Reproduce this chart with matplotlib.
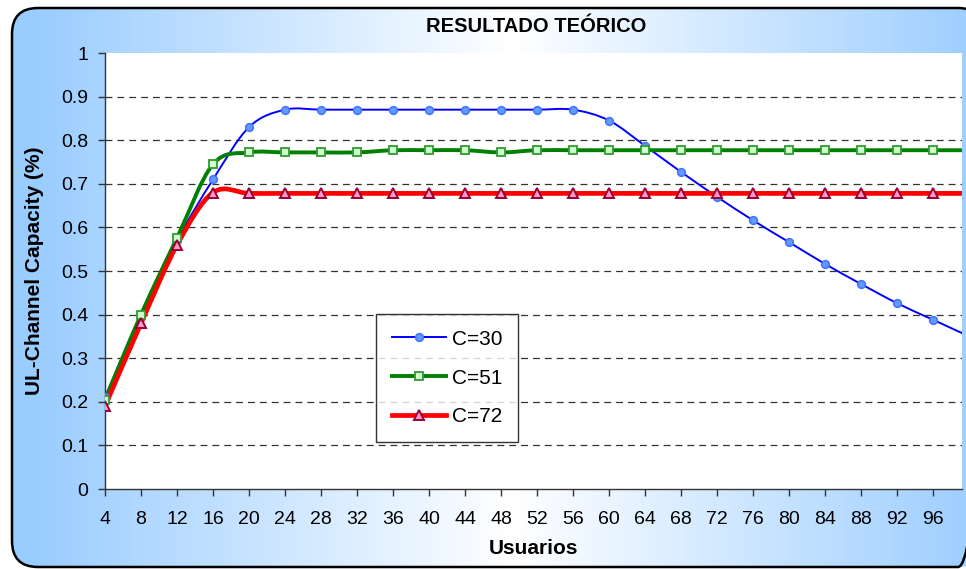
import numpy as np
import matplotlib
matplotlib.use('Agg')
import matplotlib.pyplot as plt
from matplotlib.path import Path
from matplotlib.patches import PathPatch, FancyBboxPatch
from matplotlib.lines import Line2D

plt.rcParams['font.family'] = ['Liberation Sans', 'DejaVu Sans']

## -------------------------------- data --------------------------------
usuarios = [4, 8, 12, 16, 20, 24, 28, 32, 36, 40, 44, 48, 52, 56, 60, 64,
            68, 72, 76, 80, 84, 88, 92, 96, 100]
c30 = [0.21, 0.40, 0.57, 0.71, 0.83, 0.87, 0.87, 0.87, 0.87, 0.87, 0.87, 0.87,
       0.87, 0.87, 0.845, 0.787, 0.727, 0.67, 0.616, 0.566, 0.516, 0.47, 0.426,
       0.388, 0.35]
c51 = [0.205, 0.40, 0.576, 0.745, 0.772, 0.772, 0.772, 0.772, 0.777, 0.777,
       0.777, 0.772, 0.777, 0.777, 0.777, 0.777, 0.777, 0.777, 0.777, 0.777,
       0.777, 0.777, 0.777, 0.777, 0.777]
c72 = [0.19, 0.38, 0.56, 0.68, 0.678, 0.678, 0.678, 0.678, 0.678, 0.678, 0.678,
       0.678, 0.678, 0.678, 0.678, 0.678, 0.678, 0.678, 0.678, 0.678, 0.678,
       0.678, 0.678, 0.678, 0.678]
labels = ['C=30', 'C=51', 'C=72']
x_ticks = list(range(4, 100, 4))
y_ticks = [0, 0.1, 0.2, 0.3, 0.4, 0.5, 0.6, 0.7, 0.8, 0.9, 1]
y_ticklabels = ['0', '0.1', '0.2', '0.3', '0.4', '0.5', '0.6', '0.7', '0.8', '0.9', '1']


def smoothPath(x, y):
    '''Excel-like smoothed line: cubic bezier segments through the points.'''
    x = np.asarray(x, float)
    y = np.asarray(y, float)
    n = len(x)
    verts = [(x[0], y[0])]
    codes = [Path.MOVETO]
    for i in range(n - 1):
        i0 = max(i - 1, 0)
        i3 = min(i + 2, n - 1)
        c1 = (x[i] + (x[i + 1] - x[i0]) / 6, y[i] + (y[i + 1] - y[i0]) / 6)
        c2 = (x[i + 1] - (x[i3] - x[i]) / 6, y[i + 1] - (y[i3] - y[i]) / 6)
        verts += [c1, c2, (x[i + 1], y[i + 1])]
        codes += [Path.CURVE4] * 3
    return Path(verts, codes)


W, H = 966, 569
fig = plt.figure(figsize=(W / 100, H / 100), dpi=100)

# background: rounded frame with horizontal blue -> white -> blue gradient
bg = fig.add_axes([0, 0, 1, 1])
bg.set_xlim(0, W)
bg.set_ylim(H, 0)
bg.axis('off')
frame = FancyBboxPatch((12, 8), 972, 559, boxstyle='round,pad=0,rounding_size=26',
                       facecolor='none', edgecolor='black', linewidth=1.8, zorder=3)
bg.add_patch(frame)
xx = np.linspace(0, 1, 400)
t = np.clip(np.abs(xx - 0.53) / 0.5, 0, 1)
blue = np.array([153, 204, 255]) / 255.
white = np.array([1.0, 1.0, 1.0])
grad = (white[None, :] * (1 - t[:, None]) + blue[None, :] * t[:, None])[None, :, :]
im = bg.imshow(grad, extent=[0, W, H, 0], aspect='auto', zorder=1)
im.set_clip_path(frame)

# main plot
ax = fig.add_axes([105 / W, 1 - 489 / H, 857 / W, 436 / H])
ax.set_facecolor('white')
ax.set_xlim(4, 99.2)
ax.set_ylim(0, 1)

for yv in y_ticks[1:-1]:
    ax.axhline(yv, color='#333333', linewidth=0.9, linestyle=(0, (5.5, 4)), zorder=1)

styles = [
    dict(color='#0000ff', lw=1.4, marker='o', ms=5.5, mfc='#6699ff', mec='#4477ff', mew=1.2),
    dict(color='#008000', lw=2.8, marker='s', ms=5.5, mfc='#ccffcc', mec='#339933', mew=1.3),
    dict(color='#ff0000', lw=3.4, marker='^', ms=6.5, mfc='#ff99cc', mec='#990033', mew=1.4),
]
handles = []
for ys, lab, st in zip([c30, c51, c72], labels, styles):
    patch = PathPatch(smoothPath(usuarios, ys), facecolor='none', edgecolor=st['color'],
                      linewidth=st['lw'], capstyle='round', joinstyle='round', zorder=3)
    ax.add_patch(patch)
    ax.plot(usuarios, ys, linestyle='none', marker=st['marker'], markersize=st['ms'],
            markerfacecolor=st['mfc'], markeredgecolor=st['mec'], markeredgewidth=st['mew'],
            zorder=4, clip_on=True)
    handles.append(Line2D([], [], color=st['color'], linewidth=st['lw'], marker=st['marker'],
                          markersize=st['ms'], markerfacecolor=st['mfc'],
                          markeredgecolor=st['mec'], markeredgewidth=st['mew']))

ax.set_xticks(x_ticks)
ax.set_xticklabels([str(v) for v in x_ticks])
ax.set_yticks(y_ticks)
ax.set_yticklabels(y_ticklabels)
ax.tick_params(axis='x', direction='out', length=5, width=1, color='#333333',
               labelsize=14, pad=11)
ax.tick_params(axis='y', direction='out', length=5, width=1, color='#333333',
               labelsize=14, pad=7)
for s in ['top', 'right']:
    ax.spines[s].set_visible(False)
for s in ['left', 'bottom']:
    ax.spines[s].set_color('#333333')
    ax.spines[s].set_linewidth(1)

ax.set_xlabel('Usuarios', fontsize=15, fontweight='bold', labelpad=8)
ax.set_ylabel('UL-Channel Capacity (%)', fontsize=15, fontweight='bold', labelpad=12)
fig.text(536 / W, 1 - 27 / H, 'RESULTADO TEÓRICO', fontsize=14.5, fontweight='bold',
         ha='center', va='center')

leg = ax.legend(handles, labels, loc='center', bbox_to_anchor=(0.308, 0.110, 0.183, 0.289),
                fontsize=15, frameon=True, fancybox=False, handlelength=2.6,
                labelspacing=0.95, borderpad=0.75, handletextpad=0.3, borderaxespad=0)
leg.get_frame().set_edgecolor('black')
leg.get_frame().set_linewidth(1)

fig.savefig('out.png', dpi=100)
